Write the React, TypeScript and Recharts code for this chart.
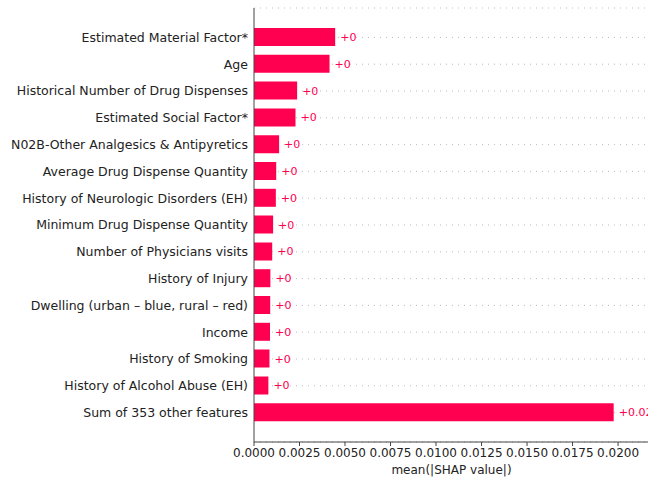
import { BarChart, Bar, XAxis, YAxis, CartesianGrid, LabelList } from 'recharts';

const features = [
  'Estimated Material Factor*',
  'Age',
  'Historical Number of Drug Dispenses',
  'Estimated Social Factor*',
  'N02B-Other Analgesics & Antipyretics',
  'Average Drug Dispense Quantity',
  'History of Neurologic Disorders (EH)',
  'Minimum Drug Dispense Quantity',
  'Number of Physicians visits',
  'History of Injury',
  'Dwelling (urban – blue, rural – red)',
  'Income',
  'History of Smoking',
  'History of Alcohol Abuse (EH)',
  'Sum of 353 other features',
];

const meanShap = [
  0.00446, 0.00415, 0.00237, 0.00228, 0.00138, 0.00122, 0.0012, 0.00105, 0.001, 0.0009, 0.00089,
  0.00088, 0.00085, 0.00079, 0.01976,
];

const xTicks = [0, 0.0025, 0.005, 0.0075, 0.01, 0.0125, 0.015, 0.0175, 0.02];

const RED = '#ff0051';
const FONT = 'DejaVu Sans, sans-serif';

// shap-style "+0.02" / "+0" labels
function fmtValue(v: number): string {
  const s = v.toFixed(2).replace(/0+$/, '').replace(/\.$/, '');
  return '+' + s;
}

const data = features.map((name, i) => ({ name, value: meanShap[i] }));

export default function App() {
  return (
    <div style={{ position: 'absolute', left: 0, top: 0, width: 648, height: 479, overflow: 'hidden', background: '#fff' }}>
      <BarChart
        width={700}
        height={479}
        layout="vertical"
        data={data}
        margin={{ top: 8, right: 51, bottom: 0, left: 0 }}
        style={{ fontFamily: FONT }}
      >
        <CartesianGrid horizontal vertical={false} stroke="#aaaaaa" strokeWidth={0.8} strokeDasharray="1 5" />
        <XAxis
          type="number"
          domain={[0, 0.0217]}
          ticks={xTicks}
          interval={0}
          allowDataOverflow
          tickFormatter={(v: number) => v.toFixed(4)}
          height={37}
          tickSize={4}
          tickMargin={2}
          axisLine={{ stroke: '#444', strokeWidth: 1 }}
          tickLine={{ stroke: '#444' }}
          tick={{ fill: '#222', fontSize: 12, fontFamily: FONT }}
          label={{ value: 'mean(|SHAP value|)', position: 'insideBottom', offset: 5, fill: '#222', fontSize: 12, fontFamily: FONT }}
        />
        <YAxis
          type="category"
          dataKey="name"
          width={254}
          padding={{ top: 16, bottom: 16 }}
          tickSize={0}
          tickMargin={6}
          tickLine={false}
          axisLine={{ stroke: '#444', strokeWidth: 1 }}
          tick={{ fill: '#222', fontSize: 12.5, fontFamily: FONT }}
          interval={0}
        />
        <Bar dataKey="value" fill={RED} barSize={18} isAnimationActive={false}>
          <LabelList
            dataKey="value"
            position="right"
            offset={5}
            formatter={(v: number) => fmtValue(v)}
            style={{ fill: RED, fontSize: 11, fontFamily: FONT }}
          />
        </Bar>
      </BarChart>
    </div>
  );
}
